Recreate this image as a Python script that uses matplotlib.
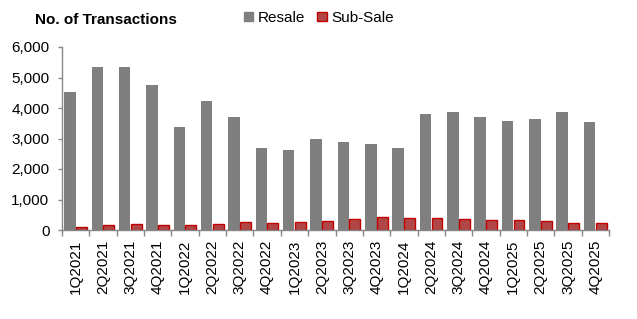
import numpy as np
import matplotlib
matplotlib.use("Agg")
import matplotlib.pyplot as plt
from matplotlib.patches import Patch

plt.rcParams["font.family"] = ["Liberation Sans", "DejaVu Sans"]

quarters = [
    "1Q2021", "2Q2021", "3Q2021", "4Q2021",
    "1Q2022", "2Q2022", "3Q2022", "4Q2022",
    "1Q2023", "2Q2023", "3Q2023", "4Q2023",
    "1Q2024", "2Q2024", "3Q2024", "4Q2024",
    "1Q2025", "2Q2025", "3Q2025", "4Q2025",
]
resale = [4530, 5350, 5350, 4760, 3380, 4230, 3710, 2690, 2620, 2980,
          2890, 2820, 2700, 3800, 3870, 3710, 3580, 3640, 3870, 3540]
sub_sale = [90, 150, 200, 150, 150, 190, 260, 230, 260, 295,
            360, 425, 390, 390, 360, 330, 330, 295, 230, 230]

grey = "#7f7f7f"
red_fill = "#b04646"
red_edge = "#c00000"
axis_grey = "#868686"

fig = plt.figure(figsize=(6.37, 3.19), dpi=100)
ax = fig.add_axes([62 / 637, 89 / 319, 547 / 637, 183 / 319])

x = np.arange(len(quarters))
width = 0.42
ax.bar(x - width / 2, resale, width, color=grey, linewidth=0)
ax.bar(x + width / 2, sub_sale, width * 0.95, color=red_fill,
       edgecolor=red_edge, linewidth=1.0)

ax.set_xlim(-0.5, len(quarters) - 0.5)
ax.set_ylim(0, 6000)
ax.set_yticks(range(0, 6001, 1000))
ax.set_yticklabels([f"{v:,}" for v in range(0, 6001, 1000)], fontsize=11)

ax.set_xticks(x)
ax.set_xticklabels(quarters, rotation=90, fontsize=11)
ax.tick_params(axis="x", which="major", length=0, pad=7)
ax.set_xticks(np.arange(-0.5, len(quarters)), minor=True)
ax.tick_params(axis="x", which="minor", length=4, color=axis_grey, width=1)
ax.tick_params(axis="y", length=3, color=axis_grey, width=1, pad=6)

for side in ("top", "right"):
    ax.spines[side].set_visible(False)
for side in ("left", "bottom"):
    ax.spines[side].set_color(axis_grey)
    ax.spines[side].set_linewidth(1)

fig.text(35 / 637, 1 - 20 / 319, "No. of Transactions", fontsize=11,
         fontweight="bold", va="center", ha="left")

handles = [
    Patch(facecolor=grey, edgecolor=grey, label="Resale"),
    Patch(facecolor=red_fill, edgecolor=red_edge, label="Sub-Sale"),
]
fig.legend(handles=handles, loc="center left", ncol=2, frameon=False,
           bbox_to_anchor=(238 / 637, 1 - 18 / 319), fontsize=11,
           handlelength=0.6, handleheight=0.6, handletextpad=0.3,
           columnspacing=0.8, borderaxespad=0)

fig.savefig("out.png", dpi=100)
